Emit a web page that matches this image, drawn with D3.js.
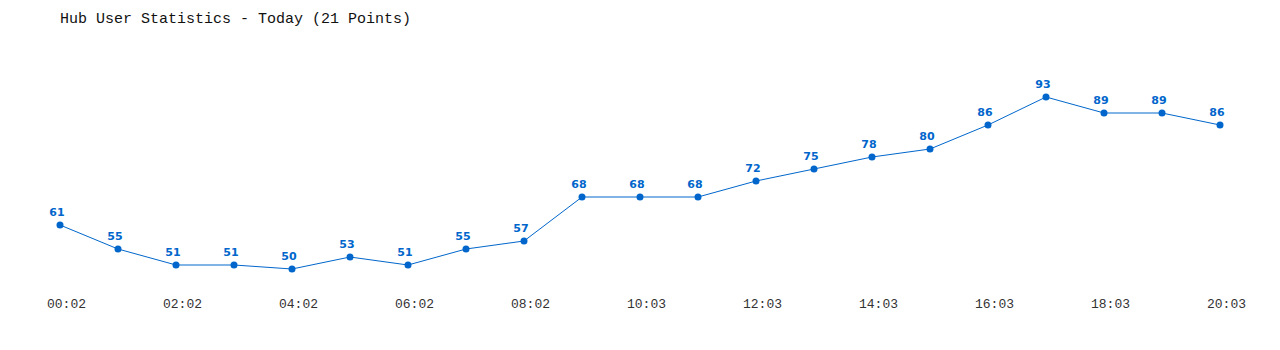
<!DOCTYPE html>
<html>
<head>
<meta charset="utf-8">
<script src="https://cdn.jsdelivr.net/npm/d3@7"></script>
<style>
  body { margin: 0; background: #fff; }
</style>
</head>
<body>
<div id="chart"></div>
<script>
const times = ['00:02', '01:02', '02:02', '03:02', '04:02', '05:02', '06:02', '07:02',
  '08:02', '09:03', '10:03', '11:03', '12:03', '13:03', '14:03', '15:03', '16:03',
  '17:03', '18:03', '19:03', '20:03'];
const users = [61, 55, 51, 51, 50, 53, 51, 55, 57, 68, 68, 68, 72, 75, 78, 80, 86, 93, 89, 89, 86];
const title = 'Hub User Statistics - Today (21 Points)';

const width = 1280;
const height = 350;
const blue = '#0066cc';

const svg = d3.select('#chart')
  .append('svg')
  .attr('width', width)
  .attr('height', height)
  .style('user-select', 'none');

const x = d3.scalePoint()
  .domain(times)
  .range([60, 1220]);

const y = d3.scaleLinear()
  .domain([50, 93])
  .range([269, 97]);

// title
svg.append('text')
  .attr('x', 60)
  .attr('y', 23)
  .attr('font-family', 'Liberation Mono, monospace')
  .attr('font-size', 15)
  .attr('fill', '#111')
  .text(title);

// x axis, every other label, no line (labels sit a bit right of the points)
const xAxis = svg.append('g')
  .attr('transform', 'translate(6,299)')
  .call(d3.axisBottom(x)
    .tickValues(times.filter((d, i) => i % 2 === 0))
    .tickSize(0)
    .tickPadding(0));
xAxis.select('.domain').remove();
xAxis.selectAll('.tick text')
  .attr('dy', '0.71em')
  .attr('font-family', 'Liberation Mono, monospace')
  .attr('font-size', 13)
  .attr('fill', '#333');

const pts = times.map((t, i) => ({t, v: users[i]}));

svg.append('path')
  .datum(pts)
  .attr('fill', 'none')
  .attr('stroke', blue)
  .attr('stroke-width', 1)
  .attr('d', d3.line().x(d => x(d.t)).y(d => y(d.v)));

svg.selectAll('circle.pt')
  .data(pts)
  .join('circle')
  .attr('class', 'pt')
  .attr('cx', d => x(d.t))
  .attr('cy', d => y(d.v))
  .attr('r', 3.5)
  .attr('fill', blue);

svg.selectAll('text.val')
  .data(pts)
  .join('text')
  .attr('class', 'val')
  .attr('x', d => x(d.t) - 3)
  .attr('y', d => y(d.v) - 9)
  .attr('text-anchor', 'middle')
  .attr('font-family', 'DejaVu Sans, Verdana, sans-serif')
  .attr('font-weight', 'bold')
  .attr('font-size', 11)
  .attr('fill', blue)
  .text(d => d.v);
</script>
</body>
</html>
